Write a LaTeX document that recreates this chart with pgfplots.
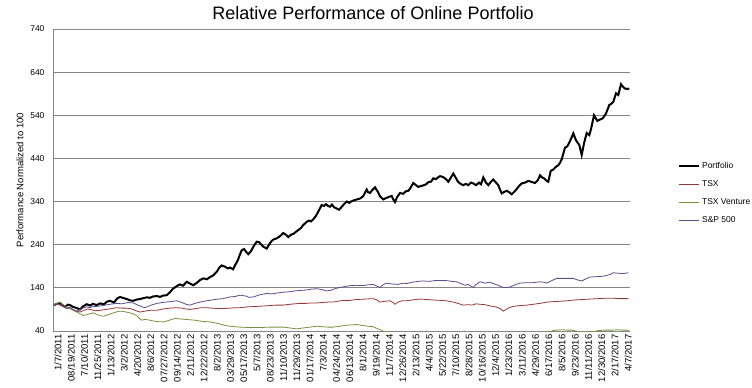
\documentclass[border=0pt]{standalone}
\usepackage{fontspec}
\setmainfont{Liberation Sans}
\usepackage{pgfplots}
\pgfplotsset{compat=1.18}
\definecolor{gridgray}{HTML}{868686}
\definecolor{tsxred}{HTML}{953735}
\definecolor{ventgreen}{HTML}{77933C}
\definecolor{spurple}{HTML}{5E4B8C}
\begin{document}
\begin{tikzpicture}
\path[use as bounding box] (0,0) rectangle (752pt,388pt);
\begin{axis}[
  at={(53pt,57pt)}, anchor=south west,
  width=577pt, height=302pt, scale only axis,
  xmin=53, xmax=630, ymin=40, ymax=740,
  ytick={40,140,...,740},
  xtick={55,68.26,...,626},
  xticklabels={1/7/2011,08/19/2011,7/10/2011,11/25/2011,1/13/2012,3/2/2012,4/20/2012,8/6/2012,07/27/2012,09/14/2012,2/11/2012,12/22/2012,8/2/2013,03/29/2013,05/17/2013,5/7/2013,08/23/2013,11/10/2013,11/29/2013,01/17/2014,7/3/2014,04/24/2014,06/13/2014,8/1/2014,9/19/2014,11/7/2014,12/26/2014,2/13/2015,4/4/2015,5/22/2015,7/10/2015,8/28/2015,10/16/2015,12/4/2015,1/23/2016,3/11/2016,4/29/2016,6/17/2016,8/5/2016,9/23/2016,11/11/2016,12/30/2016,2/17/2017,4/7/2017},
  xticklabel style={rotate=90, anchor=east, font=\fontsize{9.5}{10}\selectfont, yshift=-3pt},
  yticklabel style={font=\fontsize{8.5}{10}\selectfont, xshift=-5pt},
  /pgf/number format/assume math mode=true,
  ymajorgrids,
  major grid style={color=gridgray, line width=0.8pt},
  axis x line*=bottom, axis y line*=left,
  axis line style={color=gridgray, line width=0.8pt, -},
  major tick length=0pt,
  ylabel={Performance Normalized to 100},
  ylabel style={at={(rel axis cs:-0.0572,0.5)}, anchor=center, font=\fontsize{9.5}{11}\selectfont},
  title={Relative Performance of Online Portfolio},
  title style={at={(rel axis cs:0.5,1)}, anchor=base, xshift=31.5pt, yshift=3.5pt, font=\fontsize{18}{20}\selectfont},
  legend style={at={(rel axis cs:1.083,0.567)}, anchor=north west, draw=none, fill=none,
    font=\fontsize{8.5}{10}\selectfont, row sep=6.7pt, inner sep=0pt},
  legend cell align=left,
  legend image code/.code={\draw[#1] (0pt,0pt) -- (20pt,0pt);},
  clip=true,
]
% Portfolio
\addplot[black, line width=2pt] coordinates {
(54,100)(57,103)(60,105)(63,99)(65,96)(68,101)(70,100)(73,96)(77,93)(80,90)
(83,97)(86.7,102)(90,99)(93,103)(96.7,100)(100,104)(104,102)(107,108)(110,110)(114,106)
(117,115)(120,119)(124,116)(127,114)(130,111)(133,110)(137,113)(140,114)(143,116)(147,118)
(150,117)(153,120)(157,121)(160,119)(163,122)(166.7,123)(170,130)(173,138)(176.7,144)(180,148)
(183,145)(186.7,154)(190,150)(193.3,146)(197,152)(200,158)(203.3,162)(207,160)(210,165)(213.3,169)
(217,178)(219,186)(221.7,192)(225,189)(228,185)(230,187)(233,183)(235,192)(238,205)(240,218)
(241.7,227)(244,230)(246,224)(248.3,218)(251,225)(254,238)(256.7,247)(259,246)(261,241)(263,236)
(266.7,231)(269,240)(271,247)(273.3,252)(276,254)(279,258)(281,262)(283.3,267)(286,263)(288.3,258)
(291,263)(294,266)(296,270)(298.3,274)(301,279)(303,285)(306.7,293)(309,296)(311,294)(313.3,299)
(316,307)(319,320)(321.7,332)(324,330)(326,334)(328,330)(330,328)(332,333)(334,327)(336.7,324)
(339,321)(341,326)(344,334)(346.7,340)(349.3,337)(351,340)(354,343)(357,345)(360,347)(363,352)
(366.7,368)(368,362)(370,360)(372,366)(375,373)(378,362)(380,352)(383.3,345)(386,348)(389,351)
(391.7,353)(393,346)(395,339)(397,350)(400,360)(403,358)(406,364)(408.3,365)(410,370)(413.3,383)
(416,378)(418.3,374)(421,376)(424,378)(426,380)(428.3,385)(431,386)(433.3,394)(436,392)(438,396)
(440,399)(443,397)(446,392)(448.3,386)(451,396)(453.3,405)(456,394)(458,386)(460,382)(463,378)
(466,381)(468.3,378)(471,384)(473.3,382)(476,378)(479,384)(481,380)(483.3,396)(486,384)(488.3,378)
(491,386)(493.3,391)(496,384)(498.3,378)(500,368)(501.7,359)(504,362)(506.7,365)(509,362)(511.7,357)
(514,362)(517,370)(519,376)(521.7,382)(525,384)(528.3,388)(531,386)(535,383)(538,390)(540,401)
(542,396)(544,394)(546.7,388)(548.3,386)(550.7,411)(553,414)(556.7,422)(558.3,424)(560,430)(561.7,438)
(563.3,451)(565,465)(567.3,468)(570,480)(573.3,498)(576,482)(579.3,471)(581.7,448)(584,475)(586.7,499)
(589.3,494)(591,508)(594,540)(597.3,527)(600,530)(602.7,533)(606,544)(609.3,564)(611,566)(613.3,571)
(616,591)(618.3,587)(621,612)(623,606)(625,602)(627,601)(629.3,602)
};
\addlegendentry{Portfolio}
% TSX
\addplot[tsxred, line width=0.8pt] coordinates {
(54,100)(57,102)(60,100)(63,97)(66,94)(70,92)(74,88)(77,86)(80,84)(84,88)
(88,91)(90,90)(95,87)(100,88)(106,90)(112,92)(116.7,94)(122,93)(126,93)(130,92)
(134,89)(137,86)(140,84)(145,86)(150,88)(156.7,88)(163,91)(170,93)(176.7,94)(182,93)
(186,91)(190,90)(196,92)(201,94)(206.7,94)(212,93)(218,92)(223.3,92)(230,93)(235,94)
(240,94)(248,96)(256.7,97)(264,98)(270,99)(276,100)(283.3,100)(290,102)(295,103)(300,104)
(306,104)(311,105)(316.7,105)(322,106)(328,107)(333.3,107)(340,110)(345,111)(350,111)(356.7,113)
(365,114)(373.3,115)(377,112)(380,107)(385,109)(390,110)(393,106)(395,102)(398,107)(402,110)
(406.7,110)(412,112)(420,114)(426.7,113)(433,112)(440,111)(446,110)(453.3,107)(458,104)(463.3,100)
(468,101)(472,100)(476,103)(480,102)(485,101)(490,98)(493.3,97)(497,95)(500,92)(503.3,86)
(506,90)(509,94)(513.3,97)(520,99)(527,100)(533.3,102)(540,104)(546.7,107)(553,108)(560,109)
(566.7,110)(575,112)(583.3,113)(590,114)(598,115)(606.7,116)(613,116)(620,115)(628.3,115)
};
\addlegendentry{TSX}
% TSX Venture
\addplot[ventgreen, line width=0.8pt] coordinates {
(54,100)(57,104)(60,107)(63,101)(66.7,96)(70,92)(73,88)(76.7,84)(80,80)(83.3,76)
(87,78)(90,80)(93.3,82)(97,78)(100,76)(103.3,74)(107,77)(112,81)(116,84)(120,86)
(124,85)(128,83)(133.3,80)(137,75)(139,70)(141.7,65)(145,67)(150,65)(156,62)(163.3,61)
(168,64)(172,67)(175,69)(180,68)(185,67)(190,66)(195,65)(200,63)(205,62)(210,61)
(215,59)(220,56)(225,53)(230,51)(235,50)(240,49)(250,48)(260,48)(270,49)(283.3,49)
(290,47)(296.7,45)(303,47)(310,49)(316.7,51)(322,50)(328,49)(333.3,49)(340,51)(345,53)
(350,54)(356.7,55)(362,53)(368,51)(373.3,50)(376,47)(380,43)(383,40)(386,37)(400,33)
(430,30)(460,32)(500,30)(530,34)(550,38)(553,41)(556,42)(562,43)(568,42)(572,42)
(576,40)(580,37)(590,38)(595,39)(598,41)(605,42)(612,42)(618,43)(622,42)(626,42)(629,41)
};
\addlegendentry{TSX Venture}
% S&P 500
\addplot[spurple, line width=0.8pt] coordinates {
(54,100)(57,103)(60,102)(63,97)(66.7,92)(70,95)(73,90)(76.7,86)(80,90)(83,93)
(86.7,96)(90,94)(93,97)(96.7,97)(100,98)(105,100)(110,102)(116.7,104)(122,103)(128,106)
(133.3,105)(138,100)(142,96)(145,94)(150,99)(156.7,104)(162,106)(170,108)(176.7,110)(182,106)
(186,102)(190,100)(195,104)(200,107)(206.7,110)(212,112)(218,114)(223.3,115)(230,119)(235,120)
(240,123)(246,121)(249,118)(253.3,119)(260,124)(266.7,127)(272,126)(277,128)(283.3,130)(290,131)
(295,133)(300,134)(306,135)(311,137)(316.7,138)(322,136)(326,133)(330,134)(335,138)(340,141)
(345,143)(349.3,145)(356.7,146)(362,145)(368,147)(373.3,148)(377,144)(380,141)(383,147)(386.7,151)
(392,149)(398,148)(403,151)(406.7,150)(412,153)(418,155)(423.3,156)(430,155)(435,157)(440,157)
(446,157)(452,155)(456.7,154)(461,150)(465,146)(468,148)(473.3,141)(476,148)(480,154)(485,151)
(490,153)(493.3,150)(498,146)(503.3,141)(507,141)(510,142)(515,147)(520,151)(526,152)(533,152)
(540,154)(544,153)(546.7,151)(551,156)(556.7,162)(565,162)(573.3,162)(578,158)(581.7,156)(586,161)
(590,165)(597,166)(603,167)(606.7,169)(610,171)(613.3,175)(618,174)(623.3,173)(628.3,175)
};
\addlegendentry{S\&P 500}
\end{axis}
\end{tikzpicture}
\end{document}
